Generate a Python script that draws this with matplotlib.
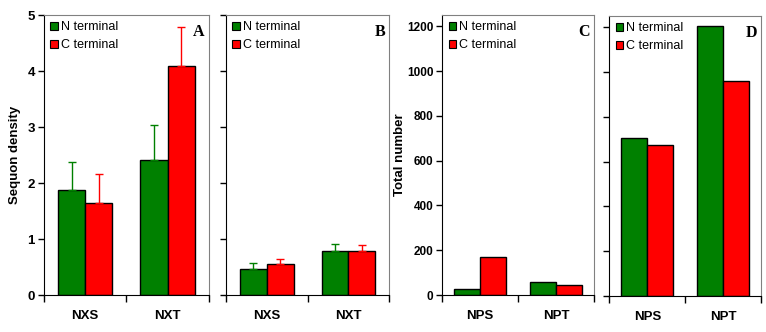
import numpy as np
import matplotlib
matplotlib.use('Agg')
import matplotlib.pyplot as plt
from matplotlib.patches import Patch

plt.rcParams['font.family'] = ['Liberation Sans', 'DejaVu Sans']

# Data ------------------------------------------------------------------------
DENS_CATS = ['NXS', 'NXT']
A_N = [1.87, 2.41]
A_N_ERR = [0.50, 0.63]
A_C = [1.64, 4.09]
A_C_ERR = [0.53, 0.70]

B_N = [0.46, 0.78]
B_N_ERR = [0.11, 0.14]
B_C = [0.55, 0.78]
B_C_ERR = [0.10, 0.11]

TOT_CATS = ['NPS', 'NPT']
C_N = [26, 57]
C_C = [170, 43]
D_N = [705, 1207]
D_C = [676, 960]

GREEN = '#008000'
RED = '#ff0000'
GRAY = '#808080'

fig = plt.figure(figsize=(7.66, 3.32), dpi=100)
bot, hgt = 0.1114, 0.843
axA = fig.add_axes([0.0574, bot, 0.2154, hgt])
axB = fig.add_axes([0.2950, bot, 0.2132, hgt])
axC = fig.add_axes([0.5774, bot, 0.1980, hgt])
axD = fig.add_axes([0.7954, bot - 0.003, 0.1984, hgt])


def draw(ax, cats, n, c, n_err=None, c_err=None, width=0.33):
    x = np.arange(len(cats))
    ekw = dict(elinewidth=1, capsize=3, capthick=1)
    ax.bar(x - width / 2, n, width, color=GREEN, edgecolor='black', lw=1,
           yerr=[np.zeros(len(n)), n_err] if n_err else None,
           error_kw=dict(ecolor=GREEN, **ekw), zorder=2)
    ax.bar(x + width / 2, c, width, color=RED, edgecolor='black', lw=1,
           yerr=[np.zeros(len(c)), c_err] if c_err else None,
           error_kw=dict(ecolor=RED, **ekw), zorder=2)
    ax.set_xlim(-0.5, len(cats) - 0.5)
    ax.set_xticks(x)
    ax.set_xticklabels(cats, fontsize=9.5, fontweight='bold')
    ax.set_xticks(np.arange(len(cats) + 1) - 0.5, minor=True)
    ax.tick_params(axis='x', which='major', length=0, pad=11)
    ax.tick_params(axis='x', which='minor', length=5, width=1, direction='out')
    ax.tick_params(axis='y', length=4, width=1, direction='out', labelsize=8.5,
                   pad=2.5)
    ax.spines['left'].set_color('black')
    ax.spines['bottom'].set_color('black')
    ax.spines['top'].set_color(GRAY)
    ax.spines['right'].set_color(GRAY)
    handles = [Patch(facecolor=GREEN, edgecolor='black', lw=0.8),
               Patch(facecolor=RED, edgecolor='black', lw=0.8)]
    ax.legend(handles, ['N terminal', 'C terminal'], loc='upper left',
              frameon=False, fontsize=9, handlelength=0.6, handleheight=0.6,
              handletextpad=0.25, labelspacing=0.45, borderaxespad=0.3,
              borderpad=0.2)


draw(axA, DENS_CATS, A_N, A_C, A_N_ERR, A_C_ERR)
draw(axB, DENS_CATS, B_N, B_C, B_N_ERR, B_C_ERR)
draw(axC, TOT_CATS, C_N, C_C, width=0.34)
draw(axD, TOT_CATS, D_N, D_C, width=0.34)

for ax in (axA, axB):
    ax.set_ylim(0, 5)
    ax.set_yticks(range(6))
for ax in (axC, axD):
    ax.set_ylim(0, 1250)
    ax.set_yticks(range(0, 1201, 200))
axB.set_yticklabels([])
axD.set_yticklabels([])
axA.tick_params(axis='y', labelsize=9.5)
for ax in (axA, axC):
    for lab in ax.get_yticklabels():
        lab.set_fontweight('bold')

axA.set_ylabel('Sequon density', fontsize=9.5, fontweight='bold')
axC.set_ylabel('Total number', fontsize=9.5, fontweight='bold')
axA.yaxis.set_label_coords(-0.14, 0.5)
axC.yaxis.set_label_coords(-0.24, 0.5)

for ax, letter in zip((axA, axB, axC, axD), 'ABCD'):
    ax.text(0.975, 0.97, letter, transform=ax.transAxes, ha='right', va='top',
            fontsize=11.5, fontweight='bold', family='Liberation Serif')

fig.savefig('out.png', dpi=100)
